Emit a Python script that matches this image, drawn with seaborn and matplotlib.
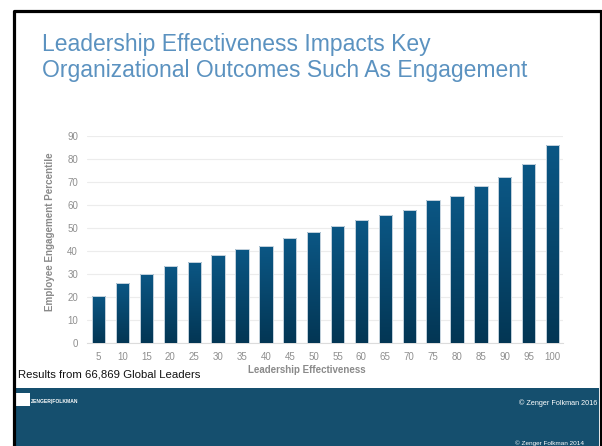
import matplotlib
matplotlib.use("Agg")
import matplotlib.pyplot as plt
import seaborn as sns
import numpy as np
import pandas as pd
from matplotlib.patches import Rectangle
from matplotlib.colors import LinearSegmentedColormap

# ---- data ----
effectiveness = ["5", "10", "15", "20", "25", "30", "35", "40", "45", "50",
                 "55", "60", "65", "70", "75", "80", "85", "90", "95", "100"]
engagement = [20.7, 26.3, 30.2, 33.4, 35.4, 38.5, 41.1, 42.4, 45.9, 48.5,
              51.1, 53.4, 55.8, 57.7, 62.1, 64.1, 68.4, 72.3, 77.7, 86.0]
y_ticks = [0, 10, 20, 30, 40, 50, 60, 70, 80, 90]

title_lines = ["Leadership Effectiveness Impacts Key",
               "Organizational Outcomes Such As Engagement"]
x_label = "Leadership Effectiveness"
y_label = "Employee Engagement Percentile"
note = "Results from 66,869 Global Leaders"

df = pd.DataFrame({"eff": effectiveness, "eng": engagement})

W, H = 602, 446
sns.set_theme(style="white")
plt.rcParams["font.family"] = ["Liberation Sans", "DejaVu Sans"]

fig = plt.figure(figsize=(W / 100, H / 100), dpi=100)
fig.patch.set_facecolor("white")

def fx(px):
    return px / W

def fy(py):
    return 1 - py / H

AX_L, AX_R, AX_T, AX_B = 86.7, 563.3, 136.0, 343.3
ax = fig.add_axes([fx(AX_L), fy(AX_B), fx(AX_R) - fx(AX_L), fy(AX_T) - fy(AX_B)])
sns.barplot(data=df, x="eff", y="eng", order=effectiveness, ax=ax,
            color="#074a72", width=0.56, edgecolor="#c5d3de", linewidth=0.7,
            errorbar=None, zorder=3)

# gradient fill clipped to each bar
grad = np.linspace(0, 1, 256).reshape(-1, 1)
cmap = LinearSegmentedColormap.from_list("g", ["#033654", "#0b5785"])
for p in ax.patches:
    x0, w, h = p.get_x(), p.get_width(), p.get_height()
    im = ax.imshow(grad, cmap=cmap, origin="lower", aspect="auto",
                   extent=[x0, x0 + w, 0, h], zorder=3.5)
    im.set_clip_path(p)
    p.set_zorder(4)
    p.set_facecolor("none")

ax.set_xlim(-0.5, 19.45)
ax.set_ylim(0, 90)
ax.set_yticks(y_ticks)
ax.yaxis.grid(True, color="#ececec", linewidth=0.8, zorder=0)
ax.xaxis.grid(False)
for s in ["top", "right", "left"]:
    ax.spines[s].set_visible(False)
ax.spines["bottom"].set_color("#dcdcdc")
ax.spines["bottom"].set_linewidth(0.8)
ax.tick_params(axis="both", length=0, labelsize=7, labelcolor="#8f8f8f")
ax.tick_params(axis="x", pad=6)
ax.tick_params(axis="y", pad=6.3)
ax.set_xlabel(x_label, fontsize=7, fontweight="bold", color="#8a8a8a")
ax.set_ylabel(y_label, fontsize=7.1, fontweight="bold", color="#8a8a8a")
axw, axh = AX_R - AX_L, AX_B - AX_T
ax.xaxis.set_label_coords((307 - AX_L) / axw, (AX_B - 370) / axh)
ax.xaxis.label.set_va("center")
ax.yaxis.set_label_coords((50 - AX_L) / axw, (AX_B - 231.5) / axh)
ax.yaxis.label.set_va("center")
ax.set_facecolor("white")

# title
fig.text(fx(42), fy(51.2), title_lines[0], fontsize=16.5, color="#5b92c0",
         va="baseline", ha="left")
fig.text(fx(42), fy(76.5), title_lines[1], fontsize=16.5, color="#5b92c0",
         va="baseline", ha="left")

# note
fig.text(fx(18), fy(377.5), note, fontsize=8.2, color="#111111", va="baseline", ha="left")

# footer band
fig.patches.append(Rectangle((fx(15), 0), fx(599) - fx(15), fy(388), transform=fig.transFigure,
                             facecolor="#154f6e", edgecolor="none", zorder=1))
# logo
fig.patches.append(Rectangle((fx(15), fy(405.5)), fx(30) - fx(15), fy(392.5) - fy(405.5),
                             transform=fig.transFigure, facecolor="white", edgecolor="none", zorder=2))
fig.text(fx(31), fy(403), "ZENGER|FOLKMAN", fontsize=3.6, fontweight="bold", color="white",
         va="baseline", ha="left", zorder=3)
fig.text(fx(597), fy(405), "\u00a9 Zenger Folkman 2016", fontsize=5.2, color="white",
         va="baseline", ha="right", zorder=3)
fig.text(fx(584), fy(445), "\u00a9 Zenger Folkman 2014", fontsize=4.6, color="white",
         va="baseline", ha="right", zorder=3)

# black frame
fig.lines.append(plt.Line2D([fx(13.5), fx(13.5), fx(600.5), fx(600.5)],
                            [0, fy(10.5), fy(10.5), 0], transform=fig.transFigure,
                            color="black", linewidth=2.3, zorder=5))

fig.savefig("out.png", dpi=100)
